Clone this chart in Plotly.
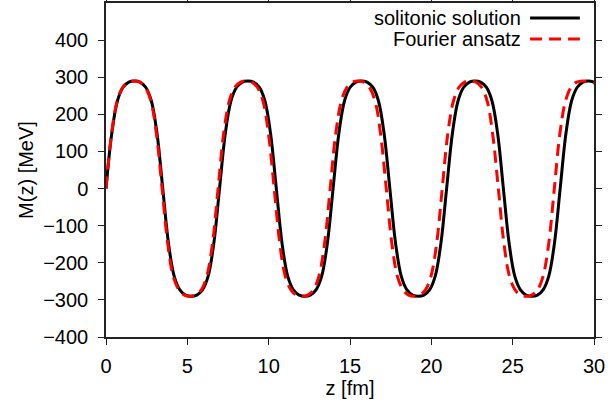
import plotly.graph_objects as go

# ---- data ----
z_soliton = [0, 0.35, 0.70, 1.05, 1.40, 1.75, 2.09, 2.44, 2.79, 3.14,
             3.49, 3.84, 4.19, 4.54, 4.89, 5.24, 5.58, 5.93, 6.28, 6.63,
             6.98, 7.33, 7.68, 8.03, 8.38, 8.73, 9.07, 9.42, 9.77, 10.12,
             10.47, 10.82, 11.17, 11.52, 11.87, 12.22, 12.56, 12.91, 13.26, 13.61,
             13.96, 14.31, 14.66, 15.01, 15.36, 15.71, 16.05, 16.40, 16.75, 17.10,
             17.45, 17.80, 18.15, 18.50, 18.85, 19.20, 19.54, 19.89, 20.24, 20.59,
             20.94, 21.29, 21.64, 21.99, 22.34, 22.69, 23.03, 23.38, 23.73, 24.08,
             24.43, 24.78, 25.13, 25.48, 25.83, 26.18, 26.52, 26.87, 27.22, 27.57,
             27.92, 28.27, 28.62, 28.97, 29.32, 29.67, 30.00]
M_soliton = [0, 147, 236, 273, 287, 290, 287, 273, 236, 147,
             0, -147, -236, -273, -287, -290, -287, -273, -236, -147,
             0, 147, 236, 273, 287, 290, 287, 273, 236, 147,
             0, -147, -236, -273, -287, -290, -287, -273, -236, -147,
             0, 147, 236, 273, 287, 290, 287, 273, 236, 147,
             0, -147, -236, -273, -287, -290, -287, -273, -236, -147,
             0, 147, 236, 273, 287, 290, 287, 273, 236, 147,
             0, -147, -236, -273, -287, -290, -287, -273, -236, -147,
             0, 147, 236, 273, 287, 290, 287]

z_fourier = [0, 0.34, 0.69, 1.03, 1.38, 1.72, 2.07, 2.41, 2.76, 3.10,
             3.45, 3.79, 4.13, 4.48, 4.82, 5.17, 5.51, 5.86, 6.20, 6.55,
             6.89, 7.23, 7.58, 7.92, 8.27, 8.61, 8.96, 9.30, 9.65, 9.99,
             10.34, 10.68, 11.02, 11.37, 11.71, 12.06, 12.40, 12.75, 13.09, 13.44,
             13.78, 14.12, 14.47, 14.81, 15.16, 15.50, 15.85, 16.19, 16.54, 16.88,
             17.23, 17.57, 17.91, 18.26, 18.60, 18.95, 19.29, 19.64, 19.98, 20.33,
             20.67, 21.01, 21.36, 21.70, 22.05, 22.39, 22.74, 23.08, 23.43, 23.77,
             24.12, 24.46, 24.80, 25.15, 25.49, 25.84, 26.18, 26.53, 26.87, 27.22,
             27.56, 27.90, 28.25, 28.59, 28.94, 29.28, 29.63, 30.00]
M_fourier = [0, 147, 236, 273, 287, 290, 287, 273, 236, 147,
             0, -147, -236, -273, -287, -290, -287, -273, -236, -147,
             0, 147, 236, 273, 287, 290, 287, 273, 236, 147,
             0, -147, -236, -273, -287, -290, -287, -273, -236, -147,
             0, 147, 236, 273, 287, 290, 287, 273, 236, 147,
             0, -147, -236, -273, -287, -290, -287, -273, -236, -147,
             0, 147, 236, 273, 287, 290, 287, 273, 236, 147,
             0, -147, -236, -273, -287, -290, -287, -273, -236, -147,
             0, 147, 236, 273, 287, 290, 288, 284]

x_ticks = [0, 5, 10, 15, 20, 25, 30]
y_ticks = [-400, -300, -200, -100, 0, 100, 200, 300, 400]
series_names = ["solitonic solution", "Fourier ansatz"]

FONT = "Liberation Sans, Arial, Helvetica, sans-serif"
FS = 20

fig = go.Figure()
fig.add_trace(go.Scatter(x=z_soliton, y=M_soliton, mode="lines", name=series_names[0],
                         line=dict(color="black", width=3, shape="spline", smoothing=1.0),
                         showlegend=False))
fig.add_trace(go.Scatter(x=z_fourier, y=M_fourier, mode="lines", name=series_names[1],
                         line=dict(color="#ff0000", width=3, dash="12px,7px", shape="spline", smoothing=1.0),
                         showlegend=False))

axis_common = dict(showline=True, linecolor="#222", linewidth=1.5, mirror="ticks",
                   ticks="outside", ticklen=6, tickwidth=1.2, tickcolor="#222",
                   showgrid=False, zeroline=False, automargin=False,
                   tickfont=dict(family=FONT, size=FS, color="black"))

fig.update_xaxes(range=[0, 30], tickvals=x_ticks, ticktext=[str(v) for v in x_ticks],
                 title=dict(text="z [fm]", font=dict(family=FONT, size=FS, color="black"), standoff=0),
                 ticklabelstandoff=4, **axis_common)
fig.update_yaxes(range=[-400, 500], tickvals=y_ticks,
                 ticktext=[("\u2212" + str(-v)) if v < 0 else str(v) for v in y_ticks],
                 title=dict(text="M(z) [MeV]", font=dict(family=FONT, size=FS, color="black"), standoff=4),
                 ticklabelstandoff=6, **axis_common)

# legend drawn like gnuplot: text right-aligned, sample line on the right
legend_rows = [(0.955, dict(color="black", width=3)),
               (0.892, dict(color="#ff0000", width=3, dash="12px,7px"))]
for name, (ypos, ln) in zip(series_names, legend_rows):
    fig.add_annotation(xref="paper", yref="paper", x=0.855, y=ypos, text=name,
                       showarrow=False, xanchor="right", yanchor="middle",
                       font=dict(family=FONT, size=FS, color="black"))
    fig.add_shape(type="line", xref="paper", yref="paper", x0=0.869, x1=0.971,
                  y0=ypos, y1=ypos, line=ln)

fig.update_layout(width=608, height=412, margin=dict(l=106, r=14, t=3, b=75),
                  paper_bgcolor="white", plot_bgcolor="white",
                  font=dict(family=FONT, size=FS, color="black"))

fig.write_html("out.html", config={"displayModeBar": False},
               post_script="document.body.style.margin='0';document.body.style.padding='0';"
                           "document.documentElement.style.overflow='hidden';")
